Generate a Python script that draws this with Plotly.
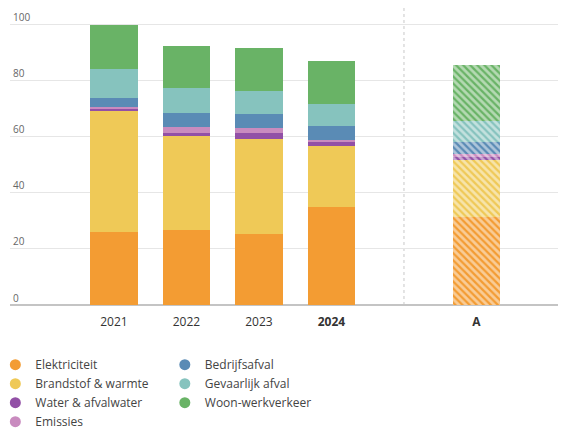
import plotly.graph_objects as go

categories = ["2021", "2022", "2023", "2024", " ", "A"]
tick_labels = ["2021", "2022", "2023", "<b>2024</b>", "", "<b>A</b>"]
bar_cats = ["2021", "2022", "2023", "2024", "A"]

series_names = ["Elektriciteit", "Brandstof & warmte", "Water & afvalwater", "Emissies",
                "Bedrijfsafval", "Gevaarlijk afval", "Woon-werkverkeer"]
elektriciteit = [26.0, 26.9, 25.2, 35.1, 31.5]
brandstof = [43.3, 33.5, 34.2, 21.7, 20.3]
water = [0.9, 0.9, 1.9, 1.2, 0.9]
emissies = [0.3, 2.1, 1.8, 0.9, 1.1]
bedrijfsafval = [3.3, 5.3, 5.1, 5.1, 4.2]
gevaarlijk = [10.6, 8.6, 8.1, 7.8, 7.7]
woonwerk = [15.6, 15.2, 15.6, 15.3, 20.0]
values = [elektriciteit, brandstof, water, emissies, bedrijfsafval, gevaarlijk, woonwerk]

colors = ["#F39C33", "#EFC957", "#9250A6", "#C98BBF", "#5A8BB5", "#86C3BE", "#69B366"]
light = ["#F9CC96", "#F7E4AA", "#C9A6D3", "#E4C4DF", "#ADC5DA", "#C3E1DE", "#B4D9B2"]

y_ticks = [0, 20, 40, 60, 80, 100]

FONT = "Open Sans"

fig = go.Figure()
for i, (name, vals) in enumerate(zip(series_names, values)):
    fig.add_trace(go.Bar(
        x=bar_cats[:4], y=vals[:4], name=name, marker_color=colors[i],
        marker_line_width=0, showlegend=False, width=0.66))
    fig.add_trace(go.Bar(
        x=bar_cats[4:], y=vals[4:], name=name, marker_color=light[i],
        marker_line_width=0, showlegend=False, width=0.66,
        marker_pattern=dict(shape="\\", fgcolor=colors[i], bgcolor=light[i],
                            size=5, solidity=0.45, fillmode="replace")))

for i, name in enumerate(series_names):
    fig.add_trace(go.Scatter(
        x=[None], y=[None], mode="markers", name=name,
        marker=dict(color=colors[i], size=11, symbol="circle"),
        legend="legend" if i < 4 else "legend2"))

fig.add_shape(type="line", xref="x", yref="paper", x0=4, x1=4, y0=0, y1=1.03,
              line=dict(color="#c8c8c8", width=1, dash="dot"), layer="below")

legend_style = dict(font=dict(size=12, color="#444444", family=FONT),
                    bgcolor="rgba(0,0,0,0)", tracegroupgap=0, itemwidth=30,
                    orientation="v", xanchor="left", yanchor="top",
                    xref="paper", yref="paper", traceorder="normal")

fig.update_layout(
    width=566, height=430,
    margin=dict(l=2, r=0, t=0, b=133, autoexpand=False),
    paper_bgcolor="white", plot_bgcolor="white",
    barmode="stack",
    font=dict(family=FONT, color="#333333"),
    xaxis=dict(type="category", categoryorder="array", categoryarray=categories,
               tickvals=categories, ticktext=tick_labels, tickangle=0,
               range=[-1.434, 6.345], showgrid=False, ticks="",
               ticklabelstandoff=8,
               tickfont=dict(size=12, color="#333333")),
    yaxis=dict(range=[0, 106], tickvals=y_ticks, showgrid=True,
               gridcolor="#e6e6e6", gridwidth=1, zeroline=True,
               zerolinecolor="#c4c4c4", zerolinewidth=1.5,
               ticklabelposition="inside top", ticks="",
               tickfont=dict(size=10, color="#666666")),
    legend=dict(x=-0.026, y=-0.152, **legend_style),
    legend2=dict(x=0.2745, y=-0.152, **legend_style),
)

fig.write_html("out.html")
